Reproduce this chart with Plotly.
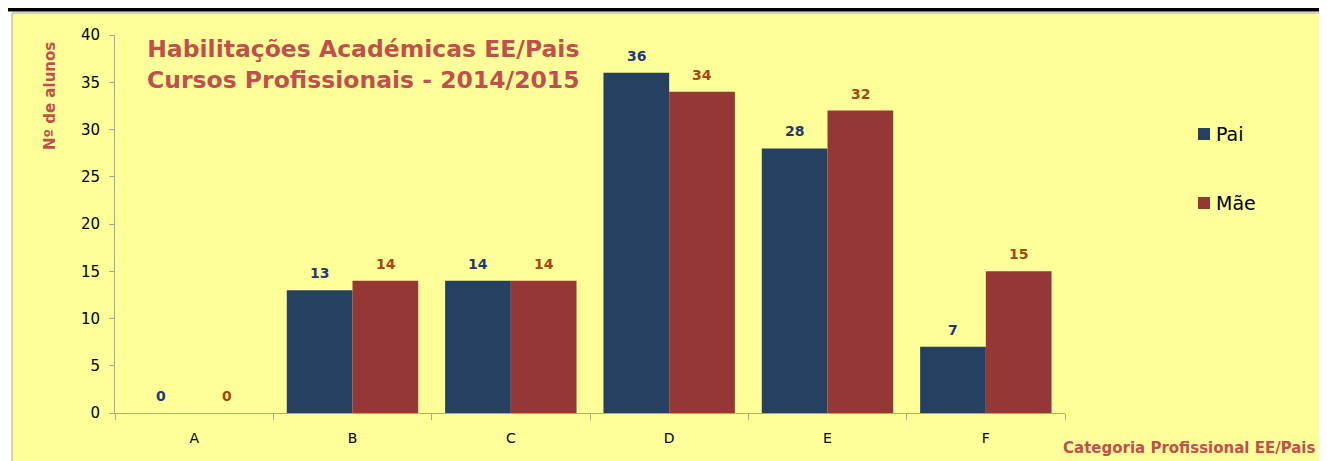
import plotly.graph_objects as go

categories = ["A", "B", "C", "D", "E", "F"]
pai = [0, 13, 14, 36, 28, 7]
mae = [0, 14, 14, 34, 32, 15]

FONT = "DejaVu Sans"
TITLE_RED = "#C0504D"
PAI_COLOR = "#254061"
MAE_COLOR = "#953735"
PAI_LABEL = "#1F3A73"
MAE_LABEL = "#A8440F"

# the page puts the figure 8px in from the top-left corner
OFF = 8
W, H = 1327 - OFF, 461 - OFF
L, R, T, B = 115 - OFF, 262, 35 - OFF, 48
PW, PH = W - L - R, H - T - B


def px_x(px):
    # page pixel -> paper coordinate
    return (px - OFF - L) / PW


def px_y(py):
    return (H - B - (py - OFF)) / PH


fig = go.Figure()

fig.add_trace(go.Bar(x=categories, y=pai, name="Pai",
                     marker=dict(color=PAI_COLOR, line=dict(width=0))))
fig.add_trace(go.Bar(x=categories, y=mae, name="Mãe",
                     marker=dict(color=MAE_COLOR, line=dict(width=0))))

# data labels above each bar (shifted left/right onto the grouped bars)
annotations = []
for cat, vp, vm in zip(categories, pai, mae):
    for val, shift, col in ((vp, -33, PAI_LABEL), (vm, 33, MAE_LABEL)):
        annotations.append(dict(
            x=cat, y=val, text=str(val), xshift=shift, yshift=7,
            xanchor="center", yanchor="bottom", showarrow=False,
            font=dict(family=FONT, size=14, color=col, weight="bold")))

annotations += [
    dict(text="Habilitações Académicas EE/Pais<br>Cursos Profissionais - 2014/2015",
         xref="paper", yref="paper", x=px_x(363), y=px_y(33),
         xanchor="center", yanchor="top", showarrow=False, align="center",
         font=dict(family=FONT, size=23.5, color=TITLE_RED, weight="bold")),
    dict(text="Categoria Profissional EE/Pais",
         xref="paper", yref="paper", x=px_x(1318), y=px_y(448),
         xanchor="right", yanchor="middle", showarrow=False,
         font=dict(family=FONT, size=15, color=TITLE_RED, weight="bold")),
    dict(text="Nº de alunos",
         xref="paper", yref="paper", x=px_x(50), y=px_y(96),
         xanchor="center", yanchor="middle", showarrow=False, textangle=-90,
         font=dict(family=FONT, size=15, color=TITLE_RED, weight="bold")),
    # legend text
    dict(text="Pai", xref="paper", yref="paper", x=px_x(1214), y=px_y(134),
         xanchor="left", yanchor="middle", showarrow=False,
         font=dict(family=FONT, size=19, color="black")),
    dict(text="Mãe", xref="paper", yref="paper", x=px_x(1214), y=px_y(203),
         xanchor="left", yanchor="middle", showarrow=False,
         font=dict(family=FONT, size=19, color="black")),
]

shapes = [
    # yellow chart area
    dict(type="rect", xref="paper", yref="paper",
         x0=px_x(12), x1=px_x(1330), y0=px_y(13), y1=px_y(465),
         fillcolor="#FFFF99", line=dict(width=0), layer="below"),
    dict(type="line", xref="paper", yref="paper",
         x0=px_x(12), x1=px_x(1330), y0=px_y(13), y1=px_y(13),
         line=dict(color="#A6A6A6", width=1), layer="below"),
    dict(type="line", xref="paper", yref="paper",
         x0=px_x(12), x1=px_x(12), y0=px_y(13), y1=px_y(465),
         line=dict(color="#A6A6A6", width=1), layer="below"),
    # thick black rule at top
    dict(type="line", xref="paper", yref="paper",
         x0=px_x(0), x1=px_x(1330), y0=px_y(9.5), y1=px_y(9.5),
         line=dict(color="black", width=4)),
    # legend keys
    dict(type="rect", xref="paper", yref="paper",
         x0=px_x(1198), x1=px_x(1210), y0=px_y(128), y1=px_y(140),
         fillcolor=PAI_COLOR, line=dict(width=0)),
    dict(type="rect", xref="paper", yref="paper",
         x0=px_x(1198), x1=px_x(1210), y0=px_y(197), y1=px_y(209),
         fillcolor=MAE_COLOR, line=dict(width=0)),
]

fig.update_layout(
    width=W, height=H,
    margin=dict(l=L, r=R, t=T, b=B),
    paper_bgcolor="white",
    plot_bgcolor="rgba(0,0,0,0)",
    barmode="group",
    bargap=0.17,
    bargroupgap=0,
    font=dict(family=FONT, size=14, color="black"),
    showlegend=False,
    shapes=shapes,
    annotations=annotations,
)

fig.update_xaxes(
    type="category", tickson="boundaries",
    showline=True, linecolor="#A6A6A6", linewidth=1,
    ticks="outside", ticklen=6, tickcolor="#A6A6A6",
    tickfont=dict(family=FONT, size=14, color="black"),
    ticklabelstandoff=12,
    showgrid=False, zeroline=False,
)
fig.update_yaxes(
    range=[0, 40], dtick=5,
    showline=True, linecolor="#A6A6A6", linewidth=1,
    ticks="outside", ticklen=5, tickcolor="#A6A6A6",
    tickfont=dict(family=FONT, size=15, color="black"),
    ticklabelstandoff=6,
    showgrid=False, zeroline=False,
)

fig.write_html("out.html")
